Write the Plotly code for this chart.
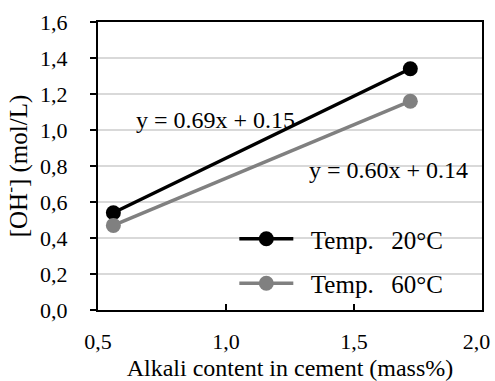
import plotly.graph_objects as go

alkali = [0.56, 1.72]
oh_20 = [0.54, 1.34]
oh_60 = [0.47, 1.16]
series_names = ["\u00a0\u00a0Temp.\u00a0\u00a0\u200920°C", "\u00a0\u00a0Temp.\u00a0\u00a0\u200960°C"]
eq_20 = "y = 0.69x + 0.15"
eq_60 = "y = 0.60x + 0.14"
x_ticks = [0.5, 1.0, 1.5, 2.0]
x_ticktext = ["0,5", "1,0", "1,5", "2,0\u00a0\u00a0"]
y_ticks = [0.0, 0.2, 0.4, 0.6, 0.8, 1.0, 1.2, 1.4, 1.6]
y_ticktext = ["0,0", "0,2", "0,4", "0,6", "0,8", "1,0", "1,2", "1,4", "1,6"]

FONT = "Liberation Serif"

fig = go.Figure()
fig.add_trace(go.Scatter(x=alkali, y=oh_20, mode="lines+markers", name=series_names[0],
                         legendgroup="a",
                         line=dict(color="#000000", width=3.5),
                         marker=dict(color="#000000", size=15)))
fig.add_trace(go.Scatter(x=alkali, y=oh_60, mode="lines+markers", name=series_names[1],
                         legendgroup="b",
                         line=dict(color="#808080", width=3.5),
                         marker=dict(color="#808080", size=15)))

fig.add_annotation(x=0.96, y=1.056, xref="x", yref="y", text=eq_20, showarrow=False,
                   xanchor="center", yanchor="middle", font=dict(family=FONT, size=24, color="black"))
fig.add_annotation(x=1.635, y=0.778, xref="x", yref="y", text=eq_60, showarrow=False,
                   xanchor="center", yanchor="middle", font=dict(family=FONT, size=24, color="black"))

fig.update_layout(
    width=495, height=381,
    margin=dict(l=98, r=13, t=22, b=71),
    paper_bgcolor="white", plot_bgcolor="white",
    font=dict(family=FONT, size=20, color="black"),
    showlegend=True,
    legend=dict(x=0.355, y=0.17, xanchor="left", yanchor="middle",
                bgcolor="rgba(0,0,0,0)", font=dict(family=FONT, size=25),
                tracegroupgap=9, itemwidth=54),
    xaxis=dict(range=[0.5, 2.0], tickvals=x_ticks, ticktext=x_ticktext,
               automargin=False, ticklabeloverflow="allow",
               showgrid=False, zeroline=False,
               showline=True, linecolor="black", linewidth=2, mirror=True,
               ticks="inside", ticklen=6, tickcolor="black", tickwidth=1.5,
               ticklabelstandoff=11,
               tickfont=dict(family=FONT, size=22, color="black"),
               title=dict(text="Alkali content in cement (mass%)",
                          font=dict(family=FONT, size=24, color="black"), standoff=6)),
    yaxis=dict(range=[0, 1.6], tickvals=y_ticks, ticktext=y_ticktext,
               automargin=False, ticklabeloverflow="allow",
               showgrid=True, gridcolor="#d9d9d9", gridwidth=1.5, zeroline=False,
               showline=True, linecolor="black", linewidth=2, mirror=True,
               ticks="outside", ticklen=6, tickcolor="black", tickwidth=1.5,
               ticklabelstandoff=18,
               tickfont=dict(family=FONT, size=22, color="black"),
               title=dict(text="[OH<sup>-</sup>] (mol/L)", font=dict(family=FONT, size=25, color="black"), standoff=10)),
)

fig.write_html("out.html")
